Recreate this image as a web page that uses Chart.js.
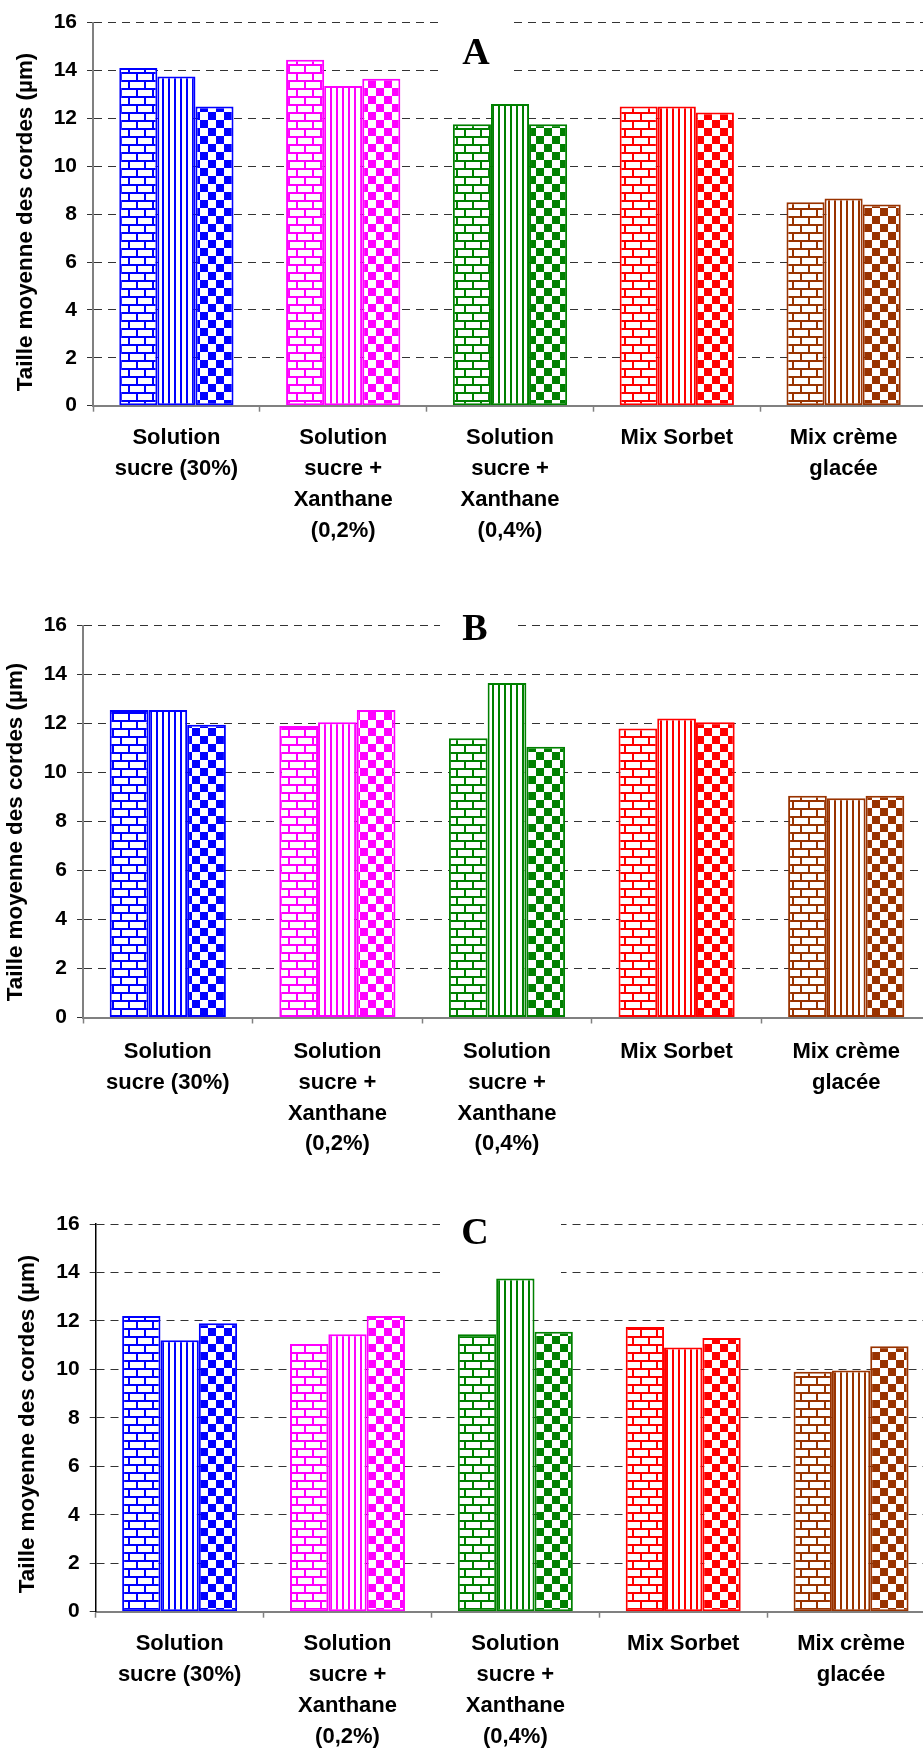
<!DOCTYPE html>
<html>
<head>
<meta charset="utf-8">
<script src="https://cdn.jsdelivr.net/npm/chart.js@4.4.1/dist/chart.umd.min.js"></script>
<style>
  html, body { margin: 0; padding: 0; background: #fff; overflow: hidden; width: 923px; height: 1748px; }
  canvas { position: absolute; left: 0; }
</style>
</head>
<body>
<canvas id="chartA" width="927" height="600" style="top:0px"></canvas>
<canvas id="chartB" width="931" height="600" style="top:600px"></canvas>
<canvas id="chartC" width="935" height="548" style="top:1200px"></canvas>
<script>
// categories (x axis), one colour per category
const categories = [
    ["Solution", "sucre (30%)"],
    ["Solution", "sucre +", "Xanthane", "(0,2%)"],
    ["Solution", "sucre +", "Xanthane", "(0,4%)"],
    ["Mix Sorbet"],
    ["Mix crème", "glacée"]
];
const groupColors = ["#0000ff", "#ff00ff", "#008000", "#ff0000", "#993300"];
const yTicks = [0, 2, 4, 6, 8, 10, 12, 14, 16];
const yTitle = "Taille moyenne des cordes (µm)";

// panel A
const briqueA = [14.1, 14.45, 11.75, 12.5, 8.5];
const verticalA = [13.75, 13.35, 12.6, 12.5, 8.65];
const damierA = [12.5, 13.65, 11.75, 12.25, 8.4];

// panel B
const briqueB = [12.55, 11.9, 11.4, 11.8, 9.05];
const verticalB = [12.55, 12.05, 13.65, 12.2, 8.95];
const damierB = [11.95, 12.55, 11.05, 12.05, 9.05];

// panel C
const briqueC = [12.2, 11.05, 11.45, 11.75, 9.9];
const verticalC = [11.2, 11.45, 13.75, 10.9, 9.95];
const damierC = [11.9, 12.2, 11.55, 11.3, 10.95];

function makePattern(type, color) {
    const c = document.createElement("canvas");
    const g = c.getContext("2d");
    if (type === "brick") {
        c.width = 16; c.height = 16;
        g.fillStyle = "#fff"; g.fillRect(0, 0, 16, 16);
        g.fillStyle = color;
        g.fillRect(0, 0, 16, 2);
        g.fillRect(0, 8, 16, 2);
        g.fillRect(0, 0, 2, 8);
        g.fillRect(8, 8, 2, 8);
    } else if (type === "vertical") {
        c.width = 6; c.height = 4;
        g.fillStyle = "#fff"; g.fillRect(0, 0, 6, 4);
        g.fillStyle = color;
        g.fillRect(0, 0, 2, 4);
    } else {
        c.width = 16; c.height = 16;
        g.fillStyle = "#fff"; g.fillRect(0, 0, 16, 16);
        g.fillStyle = color;
        g.fillRect(0, 0, 8, 8);
        g.fillRect(8, 8, 8, 8);
    }
    return g.createPattern(c, "repeat");
}

// white box with the panel letter (under the bars), plus the rotated y title
const panelDecor = {
    id: "panelDecor",
    beforeDatasetsDraw(chart, args, o) {
        const ctx = chart.ctx;
        ctx.save();
        ctx.fillStyle = "#fff";
        ctx.fillRect(o.box[0], o.box[1], o.box[2], o.box[3]);
        ctx.beginPath();
        ctx.rect(o.box[0], o.clipTop, o.box[2], 200);
        ctx.clip();
        ctx.fillStyle = "#000";
        ctx.font = 'bold 38px "Liberation Serif"';
        ctx.textAlign = "center";
        ctx.textBaseline = "alphabetic";
        ctx.fillText(o.letter, o.letterX, o.letterY);
        ctx.restore();
    },
    afterDraw(chart, args, o) {
        const ctx = chart.ctx;
        ctx.save();
        ctx.translate(o.titleX, o.titleY);
        ctx.rotate(-Math.PI / 2);
        ctx.fillStyle = "#000";
        ctx.font = 'bold 22.4px "Liberation Sans"';
        ctx.textAlign = "center";
        ctx.textBaseline = "middle";
        ctx.fillText(yTitle, 0, 0);
        ctx.restore();
    }
};

function buildChart(id, brique, vertical, damier, p) {
    const ds = (label, data, type) => ({
        label: label,
        data: data,
        backgroundColor: groupColors.map(c => makePattern(type, c)),
        borderColor: groupColors,
        borderWidth: 2,
        borderSkipped: false
    });
    return new Chart(document.getElementById(id), {
        type: "bar",
        data: {
            labels: categories,
            datasets: [
                ds("Série 1", brique, "brick"),
                ds("Série 2", vertical, "vertical"),
                ds("Série 3", damier, "check")
            ]
        },
        options: {
            responsive: false,
            animation: false,
            devicePixelRatio: 1,
            layout: { padding: { top: p.top, left: 0, right: 0, bottom: 0 } },
            datasets: { bar: { categoryPercentage: 0.685, barPercentage: 1 } },
            plugins: {
                legend: { display: false },
                tooltip: { enabled: false },
                panelDecor: p.decor
            },
            scales: {
                x: {
                    offset: true,
                    grid: { display: true, drawOnChartArea: false, drawTicks: true, offset: true,
                            tickLength: 6, tickColor: "#808080", tickWidth: 1.5 },
                    border: { display: true, color: "#808080", width: 2 },
                    ticks: { color: "#000", padding: p.xPad, maxRotation: 0, autoSkip: false,
                             font: { family: "Liberation Sans", weight: "bold", size: 22, lineHeight: 1.4 } },
                    afterFit: s => { s.height = p.xH; }
                },
                y: {
                    min: 0, max: 16,
                    afterBuildTicks: s => { s.ticks = yTicks.map(v => ({ value: v })); },
                    grid: { color: c => (c.tick && c.tick.value === 0) ? "rgba(0,0,0,0)" : "#333",
                            lineWidth: 1, tickLength: 6, tickColor: "#333", tickWidth: 1, tickBorderDash: [] },
                    border: { display: true, color: p.yAxisColor, width: p.yAxisWidth, dash: [8, 6] },
                    ticks: { color: "#000", padding: 10,
                             font: { family: "Liberation Sans", weight: "bold", size: 21 } },
                    afterFit: s => { s.width = p.yW; }
                }
            }
        },
        plugins: [panelDecor]
    });
}

buildChart("chartA", briqueA, verticalA, damierA, {
    top: 19.3, yW: 93, xH: 194.3, xPad: 11, yAxisColor: "#808080", yAxisWidth: 2,
    decor: { letter: "A", box: [443, 6, 70, 80], clipTop: 0, letterX: 476, letterY: 64, titleX: 26, titleY: 222 }
});
buildChart("chartB", briqueB, verticalB, damierB, {
    top: 25.5, yW: 83, xH: 182.5, xPad: 13, yAxisColor: "#808080", yAxisWidth: 2,
    decor: { letter: "B", box: [440, 8, 73, 36], clipTop: 13, letterX: 475, letterY: 40, titleX: 16, titleY: 232 }
});
buildChart("chartC", briqueC, verticalC, damierC, {
    top: 24, yW: 95.7, xH: 136.3, xPad: 11, yAxisColor: "#000", yAxisWidth: 1.5,
    decor: { letter: "C", box: [440, 8, 121, 68], clipTop: 0, letterX: 475, letterY: 44, titleX: 28, titleY: 224 }
});
</script>
</body>
</html>
